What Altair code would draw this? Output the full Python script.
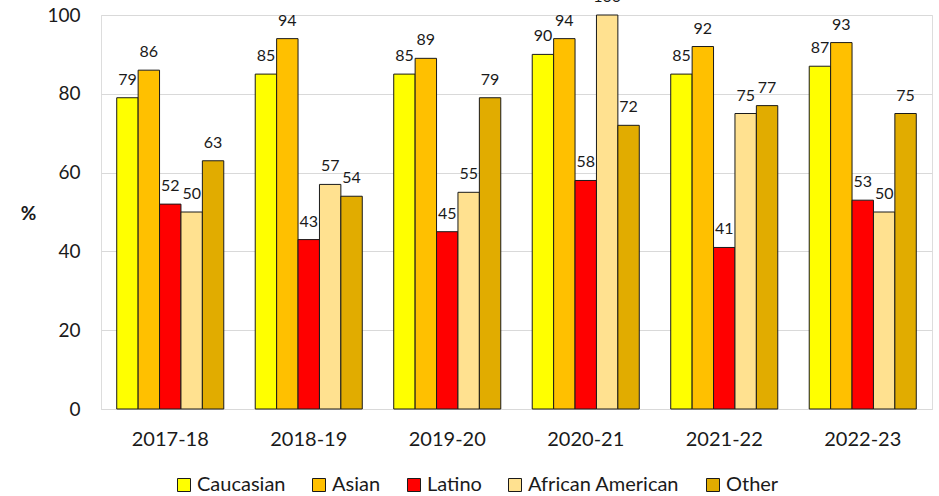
import altair as alt
import pandas as pd

# School years on the x axis
years = ["2017-18", "2018-19", "2019-20", "2020-21", "2021-22", "2022-23"]

# Groups and their bar colours
groups = ["Caucasian", "Asian", "Latino", "African American", "Other"]
colors = ["#FFFF00", "#FFC000", "#FF0000", "#FFE190", "#E1AC00"]

# Percent values per group, one per school year
caucasian = [79, 85, 85, 90, 85, 87]
asian = [86, 94, 89, 94, 92, 93]
latino = [52, 43, 45, 58, 41, 53]
african_american = [50, 57, 55, 100, 75, 50]
other = [63, 54, 79, 72, 77, 75]

series = [caucasian, asian, latino, african_american, other]
rows = []
for g, vals in zip(groups, series):
    for y, v in zip(years, vals):
        rows.append({"year": y, "group": g, "value": v})
df = pd.DataFrame(rows)

FONT = "Lato"
INK = "#1a1a1a"
GRID = "#D9D9D9"

x_enc = alt.X(
    "year:N",
    sort=years,
    scale=alt.Scale(paddingInner=0.227, paddingOuter=0.1135),
    axis=alt.Axis(
        title=None,
        labelAngle=0,
        labelFont=FONT,
        labelFontSize=20,
        labelColor=INK,
        labelPadding=20,
        ticks=False,
        tickSize=0,
        domainColor=GRID,
        domainWidth=1,
        grid=False,
    ),
)
xoff_enc = alt.XOffset(
    "group:N", sort=groups, scale=alt.Scale(paddingInner=0, paddingOuter=0)
)
y_enc = alt.Y(
    "value:Q",
    scale=alt.Scale(domain=[0, 100], nice=False),
    axis=alt.Axis(
        values=[0, 20, 40, 60, 80, 100],
        title="%",
        titleAngle=0,
        titleFont=FONT,
        titleFontSize=19,
        titleFontWeight="bold",
        titleColor=INK,
        titleX=-73,
        titleY=198,
        titleAlign="center",
        titleBaseline="middle",
        labelFont=FONT,
        labelFontSize=19,
        labelColor=INK,
        labelPadding=21,
        ticks=False,
        tickSize=0,
        domain=False,
        grid=True,
        gridColor=GRID,
        gridWidth=1,
    ),
)

bars = alt.Chart(df).mark_bar(stroke=INK, strokeWidth=1).encode(
    x=x_enc,
    xOffset=xoff_enc,
    y=y_enc,
    color=alt.Color(
        "group:N",
        sort=groups,
        scale=alt.Scale(domain=groups, range=colors),
        legend=alt.Legend(
            title=None,
            orient="none",
            legendX=73,
            legendY=460,
            direction="horizontal",
            columns=5,
            columnPadding=23,
            symbolType="square",
            symbolSize=169,
            symbolStrokeColor=INK,
            symbolStrokeWidth=1,
            labelFont=FONT,
            labelFontSize=20,
            labelColor=INK,
            labelOffset=3,
            padding=0,
        ),
    ),
)

labels = alt.Chart(df).mark_text(
    baseline="alphabetic", dy=-13, font=FONT, fontSize=16, color=INK
).encode(
    x=alt.X("year:N", sort=years),
    xOffset=alt.XOffset("group:N", sort=groups),
    y=alt.Y("value:Q"),
    text=alt.Text("value:Q", format="d"),
)

chart = (
    alt.layer(bars, labels)
    .properties(
        width=831,
        height=394,
        autosize=alt.AutoSizeParams(type="none"),
        padding={"left": 101, "top": 15, "right": 7, "bottom": 87},
    )
    .configure_view(stroke=None)
    .configure(background="white")
)

chart.save("out.html", embed_options={"renderer": "svg", "actions": False})
